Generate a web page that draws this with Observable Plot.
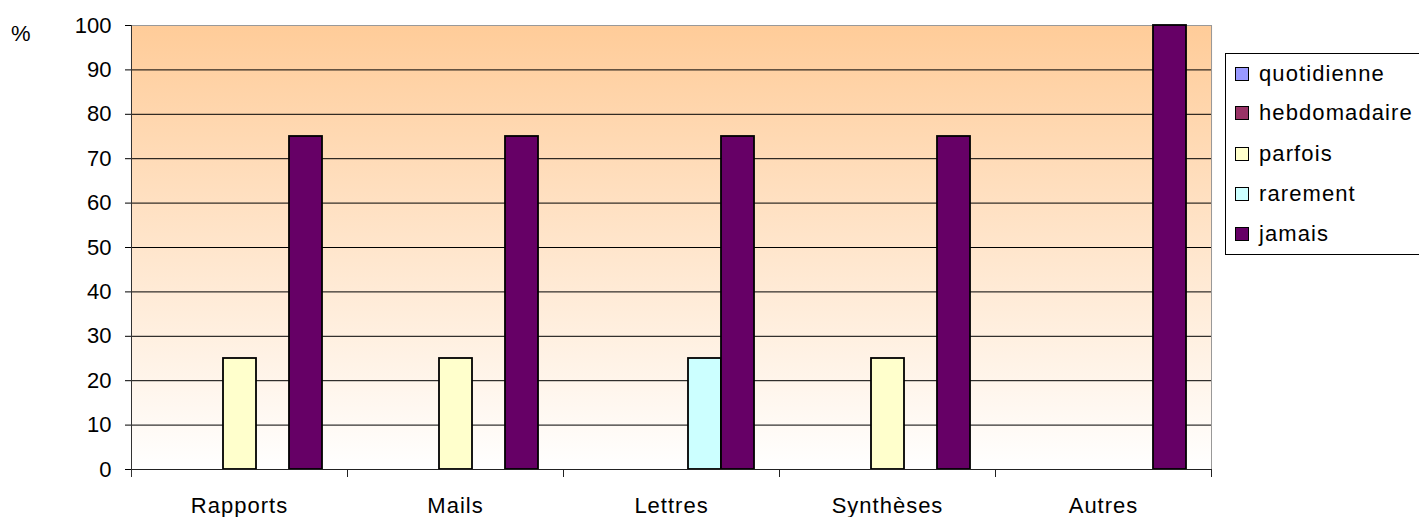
<!DOCTYPE html>
<html><head><meta charset="utf-8">
<script src="https://cdn.jsdelivr.net/npm/d3@7"></script>
<script src="https://cdn.jsdelivr.net/npm/@observablehq/plot@0.6"></script>
<style>
body{margin:0;background:#fff;font-family:"Liberation Sans",Arial,sans-serif;}
#wrap{position:relative;width:1419px;height:517px;overflow:hidden;}
#chart{position:absolute;left:0;top:0;}
#chart svg [aria-label^="fx-axis"] text{letter-spacing:1px;}
#unit{position:absolute;left:11px;top:23px;font-size:22px;line-height:22px;}
#legend{position:absolute;left:1225px;top:53px;width:210px;height:202px;border:1px solid #000;box-sizing:border-box;background:#fff;}
.item{position:absolute;left:9px;height:24px;display:flex;align-items:center;font-size:22px;letter-spacing:1.1px;white-space:nowrap;}
.sw{width:12px;height:12px;border:1px solid #000;margin-right:10px;flex:none;}
</style>
</head><body>
<div id="wrap">
  <div id="chart"></div>
  <div id="unit">%</div>
  <div id="legend"></div>
</div>
<script>
const categories = ["Rapports", "Mails", "Lettres", "Synthèses", "Autres"];
const seriesNames = ["quotidienne", "hebdomadaire", "parfois", "rarement", "jamais"];
const seriesColors = ["#9999FF", "#993366", "#FFFFCC", "#CCFFFF", "#660066"];
const quotidienne = [0, 0, 0, 0, 0];
const hebdomadaire = [0, 0, 0, 0, 0];
const parfois = [25, 25, 0, 25, 0];
const rarement = [0, 0, 25, 0, 0];
const jamais = [75, 75, 75, 75, 100];
const yTicks = [0, 10, 20, 30, 40, 50, 60, 70, 80, 90, 100];
const gridTicks = [10, 20, 30, 40, 50, 60, 70, 80, 90];

const seriesValues = [quotidienne, hebdomadaire, parfois, rarement, jamais];
const table = [];
categories.forEach((c, i) => seriesNames.forEach((s, j) => table.push({cat: c, series: s, value: seriesValues[j][i]})));

const W = 1419, H = 517, mL = 130, mR = 207, mT = 25, mB = 48;
const plotH = H - mT - mB;

const plot = Plot.plot({
  width: W, height: H,
  marginLeft: mL, marginRight: mR, marginTop: mT, marginBottom: mB,
  style: {fontFamily: '"Liberation Sans", Arial, sans-serif', fontSize: "22px", background: "transparent", color: "#000", overflow: "visible"},
  fx: {domain: categories, padding: 0, label: null},
  x: {domain: seriesNames, paddingInner: 0, paddingOuter: 0.76, axis: null},
  y: {domain: [0, 100], label: null},
  color: {domain: seriesNames, range: seriesColors},
  marks: [
    Plot.frame({fill: "url(#bggrad)", stroke: null, insetLeft: -0.6, insetRight: -0.6}),
    Plot.gridY(gridTicks, {stroke: "#000", strokeOpacity: 1}),
    Plot.frame({anchor: "top", stroke: "#999"}),
    Plot.frame({anchor: "right", stroke: "#999", fx: [categories[categories.length - 1]]}),
    Plot.barY(table, {filter: d => d.value > 0, fx: "cat", x: "series", y: "value", fill: "series", stroke: "#000", strokeWidth: 1.8}),
    Plot.ruleY([0], {stroke: "#222"}),
    Plot.frame({anchor: "right", insetTop: plotH, insetBottom: -7, stroke: "#222"}),
    Plot.frame({anchor: "left", insetBottom: -7, stroke: "#333", fx: [categories[0]]}),
    Plot.axisY(yTicks, {tickSize: 6, tickPadding: 14, label: null}),
    Plot.axisFx({anchor: "bottom", tickSize: 0, tickPadding: 28, label: null})
  ]
});

d3.select(plot).insert("defs", ":first-child").html(
  '<linearGradient id="bggrad" x1="0" y1="0" x2="0" y2="1">' +
  '<stop offset="0" stop-color="#FFCC99"/><stop offset="1" stop-color="#FFFFFF"/></linearGradient>');
document.getElementById("chart").appendChild(plot);

const legend = d3.select("#legend");
const centers = [20, 59, 100, 140, 180];
seriesNames.forEach((s, i) => {
  const it = legend.append("div").attr("class", "item").style("top", (centers[i] - 12) + "px");
  it.append("div").attr("class", "sw").style("background", seriesColors[i]);
  it.append("span").text(s);
});
</script>
</body></html>
